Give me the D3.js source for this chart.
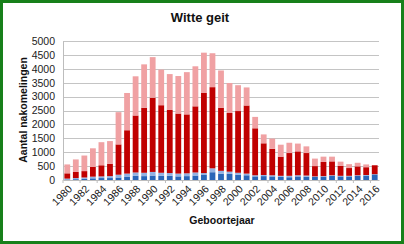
<!DOCTYPE html>
<html>
<head>
<meta charset="utf-8">
<script src="https://cdn.jsdelivr.net/npm/d3@7"></script>
<style>
  html, body { margin: 0; padding: 0; background: #fff; }
  svg { display: block; font-family: "Liberation Sans", Arial, sans-serif; }
</style>
</head>
<body>
<svg id="chart" width="404" height="244"></svg>
<script>
const years = d3.range(1980, 2017).map(String);
const yTicks = [0, 500, 1000, 1500, 2000, 2500, 3000, 3500, 4000, 4500, 5000];
// Segment heights per year (bottom to top)
const darkBlue = [20,30,40,60,70,70,90,110,150,140,160,150,150,130,140,160,180,280,230,220,190,170,130,140,130,110,100,130,120,110,120,150,130,130,150,160,200];
const lightBlue = [30,40,50,60,60,70,100,120,120,120,130,110,100,100,100,110,70,140,100,80,70,60,40,40,40,40,50,40,40,20,20,20,20,20,20,20,10];
const darkRed = [190,220,230,350,400,440,1090,1560,2050,2340,2670,2430,2270,2160,2120,2380,2880,2920,2270,2110,2220,2450,1690,1140,950,690,820,860,810,370,510,500,360,280,320,280,320];
const pink = [320,450,560,670,830,820,1160,1340,1410,1560,1460,1280,1290,1350,1520,1440,1450,1220,1340,1080,930,650,410,320,370,430,370,280,240,270,190,170,150,140,130,100,0];

const series = [
  { name: "a", values: darkBlue, color: "#2a66b8" },
  { name: "b", values: lightBlue, color: "#93b2e2" },
  { name: "c", values: darkRed, color: "#c00000" },
  { name: "d", values: pink, color: "#f0a1a3" }
];

const rows = years.map((y, i) => {
  const r = { year: y };
  series.forEach(s => r[s.name] = s.values[i]);
  return r;
});
const stack = d3.stack().keys(series.map(s => s.name))(rows);

const svg = d3.select("#chart");
const W = 404, H = 244;
const m = { left: 63, right: 25, top: 41, bottom: 64 };

svg.append("rect").attr("x", 0).attr("y", 0).attr("width", W).attr("height", H).attr("fill", "#fff");

const x = d3.scaleBand().domain(years).range([m.left, W - m.right]).paddingInner(0.32).paddingOuter(0.16);
const y = d3.scaleLinear().domain([0, 5000]).range([H - m.bottom, m.top]);

// gridlines
svg.append("g").selectAll("line").data(yTicks.slice(1)).join("line")
  .attr("x1", m.left).attr("x2", W - m.right)
  .attr("y1", d => Math.round(y(d)) + 0.5).attr("y2", d => Math.round(y(d)) + 0.5)
  .attr("stroke", "#c4c4c4").attr("stroke-width", 1);

// bars
svg.append("g").selectAll("g").data(stack).join("g")
  .attr("fill", (d, i) => series[i].color)
  .selectAll("rect").data(d => d).join("rect")
  .attr("x", d => x(d.data.year))
  .attr("width", x.bandwidth())
  .attr("y", d => y(d[1]))
  .attr("height", d => Math.max(0, y(d[0]) - y(d[1])));

// y axis
const yAxis = d3.axisLeft(y).tickValues(yTicks).tickFormat(d3.format("d")).tickSize(0).tickPadding(8);
const gy = svg.append("g").attr("transform", `translate(${m.left},0)`).call(yAxis);
gy.select(".domain").attr("stroke", "#bdbdbd");
gy.selectAll("text").attr("font-size", 10.5).attr("fill", "#222").attr("font-family", "Liberation Sans, Arial, sans-serif");

// x axis
const xAxis = d3.axisBottom(x).tickValues(years.filter((d, i) => i % 2 === 0)).tickSize(0).tickPadding(0);
const gx = svg.append("g").attr("transform", `translate(0,${H - m.bottom})`).call(xAxis);
gx.select(".domain").attr("stroke", "#bdbdbd");
gx.selectAll("text")
  .attr("font-size", 10.5).attr("fill", "#222").attr("font-family", "Liberation Sans, Arial, sans-serif")
  .attr("text-anchor", "end")
  .attr("x", 0).attr("y", 0)
  .attr("dy", "0.35em")
  .attr("transform", "translate(3,7) rotate(-45)");

// tick marks at every second category boundary
const step = x.step();
svg.append("g").selectAll("line").data(years.filter((d, i) => i % 2 === 0)).join("line")
  .attr("x1", d => x(d) - step * x.paddingInner() / 2)
  .attr("x2", d => x(d) - step * x.paddingInner() / 2)
  .attr("y1", H - m.bottom).attr("y2", H - m.bottom + 3)
  .attr("stroke", "#bdbdbd");

// title
svg.append("text").attr("x", 200).attr("y", 22).attr("text-anchor", "middle")
  .attr("font-size", 13).attr("font-weight", "bold").attr("fill", "#111").text("Witte geit");

// axis titles
svg.append("text").attr("x", 222).attr("y", 224).attr("text-anchor", "middle")
  .attr("font-size", 10.5).attr("font-weight", "bold").attr("fill", "#111").text("Geboortejaar");
svg.append("text").attr("transform", "translate(27,110) rotate(-90)").attr("text-anchor", "middle")
  .attr("font-size", 10.5).attr("font-weight", "bold").attr("fill", "#111").text("Aantal nakomelingen");

// green frame
svg.append("rect").attr("x", 1.5).attr("y", 1.5).attr("width", W - 3).attr("height", H - 3)
  .attr("fill", "none").attr("stroke", "#17801a").attr("stroke-width", 3);
</script>
</body>
</html>
